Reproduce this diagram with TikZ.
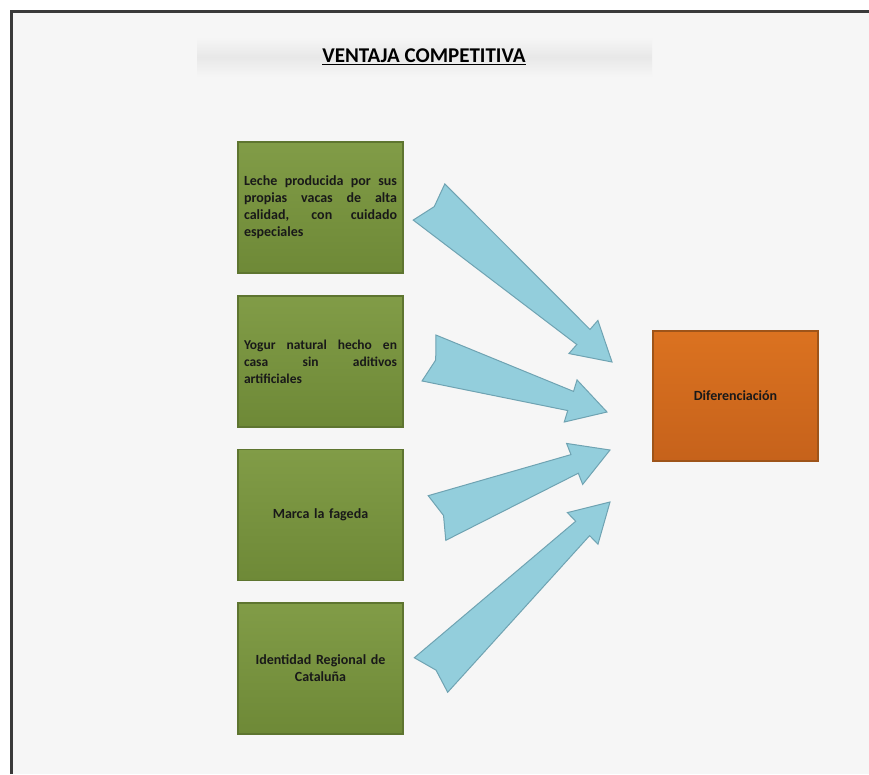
\documentclass[tikz,border=0pt]{standalone}
\usepackage{fontspec}
\setmainfont{Carlito}
\usetikzlibrary{calc}
\definecolor{bgc}{HTML}{F6F6F6}
\definecolor{frame}{HTML}{3A3A3A}
\definecolor{gtop}{HTML}{819C47}
\definecolor{gbot}{HTML}{6E8937}
\definecolor{gline}{HTML}{5E7530}
\definecolor{otop}{HTML}{DB7220}
\definecolor{obot}{HTML}{C6621B}
\definecolor{oline}{HTML}{9E5419}
\definecolor{afill}{HTML}{93CEDC}
\definecolor{aline}{HTML}{6FA3B2}
\newcommand{\nohyph}{\hyphenpenalty=10000\relax\exhyphenpenalty=10000\relax}
\tikzset{
  boxfont/.style={font=\bfseries\fontsize{14}{17}\selectfont\nohyph},
  greenbox/.style={draw=gline, line width=1.2pt, top color=gtop, bottom color=gbot,
    minimum width=165pt, minimum height=131pt, inner sep=0pt, boxfont, text=black!90},
  orangebox/.style={draw=oline, line width=1.2pt, top color=otop, bottom color=obot,
    minimum width=165pt, minimum height=130pt, inner sep=0pt, boxfont, text=black!90},
  blockarrow/.style={draw=aline, fill=afill, line width=1pt, line join=miter},
}
\newcommand{\blockarr}[3]{%
  \coordinate (#3) at ($(#2)!38pt!(#1)$);
  \draw[blockarrow] ($(#1)!24pt!90:(#2)$) -- ($(#1)!7pt!(#2)$) -- ($(#1)!24pt!-90:(#2)$)
    -- ($(#3)!10pt!-90:(#2)$) -- ($(#3)!22pt!-90:(#2)$) -- (#2)
    -- ($(#3)!22pt!90:(#2)$) -- ($(#3)!10pt!90:(#2)$) -- cycle;}
\begin{document}
\begin{tikzpicture}[x=1pt,y=-1pt]
\useasboundingbox (0,0) rectangle (869,774);
\fill[white] (0,0) rectangle (869,774);
\fill[bgc] (11,11) rectangle (869,774);
\draw[frame, line width=3pt] (11,774) -- (11,11) -- (869,11);
% title band
\shade[top color=bgc, bottom color=bgc, middle color=black!9] (197,37) rectangle (652,77);
\node (title) at (424,57) {\bfseries\fontsize{21}{24}\selectfont\underline{VENTAJA COMPETITIVA}};
% boxes
\node[greenbox, text width=153pt, align=justify] (b1) at (320.5,207.5)
  {Leche producida por sus propias vacas de alta calidad, con cuidado especiales};
\node[greenbox, text width=153pt, align=justify] (b2) at (320.5,361.5)
  {\fontsize{13.5}{17}\selectfont Yogur natural hecho en\linebreak casa sin aditivos\linebreak artificiales};
\node[greenbox, text width=153pt, align=center] (b3) at (320.5,515)
  {Marca la fageda};
\node[greenbox, text width=153pt, align=center] (b4) at (320.5,668.5)
  {Identidad Regional de\\Catalu\~na};
\node[orangebox, text width=153pt, align=center] (dif) at (735.5,396) {Diferenciaci\'on};
% arrows
\coordinate (t1) at (429,202); \coordinate (p1) at (612,362);
\coordinate (t2) at (429,358); \coordinate (p2) at (607,412);
\coordinate (t3) at (437,518); \coordinate (p3) at (610,450);
\coordinate (t4) at (431,675); \coordinate (p4) at (610,502);
\blockarr{t1}{p1}{h1}
\blockarr{t2}{p2}{h2}
\blockarr{t3}{p3}{h3}
\blockarr{t4}{p4}{h4}
\end{tikzpicture}
\end{document}
